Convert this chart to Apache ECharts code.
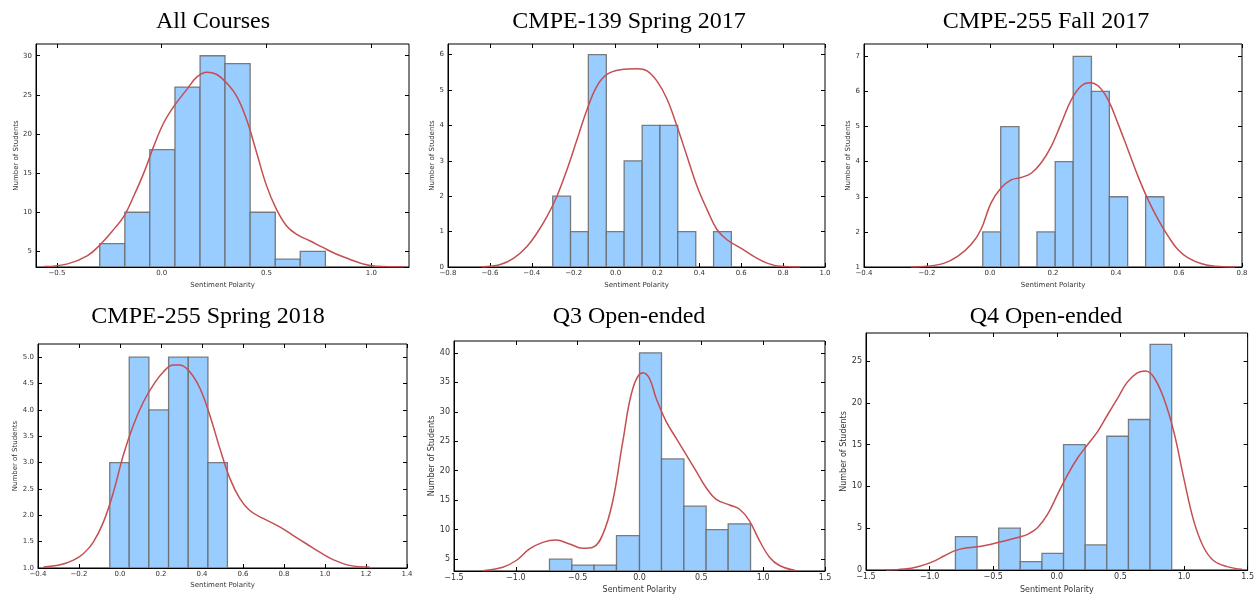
<!DOCTYPE html>
<html><head><meta charset="utf-8">
<script src="https://cdn.jsdelivr.net/npm/echarts@6/dist/echarts.min.js"></script>
<style>html,body{margin:0;padding:0;background:#fff}#c{width:1257px;height:595px}</style>
</head><body><div id="c"></div><script>
const titles = ['All Courses','CMPE-139 Spring 2017','CMPE-255 Fall 2017','CMPE-255 Spring 2018','Q3 Open-ended','Q4 Open-ended'];
const xName = 'Sentiment Polarity';
const yName = 'Number of Students';

// All Courses
const allEdges = [-0.296,-0.176,-0.057,0.063,0.183,0.302,0.422,0.542,0.661,0.781];
const allCounts = [6,10,18,26,30,29,10,4,5];
const allKde = [[-0.56,3.05],[-0.449,3.4],[-0.354,4.45],[-0.291,5.93],[-0.228,7.84],[-0.18,9.5],[-0.133,12.1],[-0.085,15.06],[-0.038,18.45],[0.009,21.4],[0.057,23.5],[0.12,25.7],[0.168,27.3],[0.215,27.9],[0.263,27.6],[0.31,26.5],[0.358,24.8],[0.405,21.85],[0.453,17.6],[0.5,13.4],[0.547,10.4],[0.595,8.27],[0.642,7.2],[0.706,6.36],[0.769,5.5],[0.832,4.66],[0.896,4.0],[0.959,3.4],[1.022,3.09],[1.157,3.02]];
const allXTicks = [-0.5,0.0,0.5,1.0];
const allYTicks = [5,10,15,20,25,30];

// CMPE-139 Spring 2017
const c139Edges = [-0.30,-0.215,-0.13,-0.044,0.041,0.127,0.212,0.297,0.383,0.468,0.553];
const c139Counts = [2,1,6,1,3,4,4,1,0,1];
const c139Kde = [[-0.638,0],[-0.55,0.07],[-0.486,0.25],[-0.423,0.58],[-0.375,0.96],[-0.327,1.43],[-0.28,2.0],[-0.232,2.75],[-0.184,3.6],[-0.136,4.45],[-0.089,5.11],[-0.041,5.44],[0.023,5.57],[0.102,5.6],[0.15,5.54],[0.198,5.25],[0.246,4.74],[0.293,3.98],[0.341,3.13],[0.389,2.28],[0.437,1.62],[0.484,1.06],[0.532,0.77],[0.596,0.54],[0.66,0.3],[0.723,0.11],[0.787,0.02],[0.882,0]];
const c139XTicks = [-0.8,-0.6,-0.4,-0.2,0.0,0.2,0.4,0.6,0.8,1.0];
const c139YTicks = [0,1,2,3,4,5,6];

// CMPE-255 Fall 2017
const f17Edges = [-0.023,0.034,0.092,0.149,0.207,0.264,0.322,0.379,0.437,0.494,0.552];
const f17Counts = [2,5,0,2,4,7,6,3,0,3];
const f17Kde = [[-0.251,1.0],[-0.198,1.02],[-0.145,1.11],[-0.103,1.3],[-0.06,1.64],[-0.029,2.06],[0.003,2.82],[0.035,3.25],[0.067,3.48],[0.099,3.55],[0.131,3.67],[0.162,3.96],[0.194,4.43],[0.226,5.09],[0.258,5.76],[0.29,6.16],[0.316,6.25],[0.343,6.16],[0.375,5.76],[0.406,5.09],[0.438,4.34],[0.47,3.58],[0.502,2.91],[0.534,2.35],[0.566,1.87],[0.597,1.49],[0.629,1.26],[0.672,1.09],[0.714,1.02],[0.778,1.0]];
const f17XTicks = [-0.4,-0.2,0.0,0.2,0.4,0.6,0.8];
const f17YTicks = [1,2,3,4,5,6,7];

// CMPE-255 Spring 2018
const s18Edges = [-0.050,0.045,0.141,0.237,0.333,0.429,0.524];
const s18Counts = [3,5,4,5,5,3];
const s18Kde = [[-0.373,1.02],[-0.292,1.06],[-0.227,1.15],[-0.179,1.27],[-0.13,1.49],[-0.081,1.87],[-0.032,2.44],[0.016,3.14],[0.065,3.71],[0.114,4.15],[0.162,4.47],[0.211,4.72],[0.26,4.85],[0.292,4.85],[0.341,4.72],[0.39,4.41],[0.438,3.9],[0.487,3.27],[0.536,2.70],[0.584,2.32],[0.633,2.09],[0.698,1.94],[0.779,1.78],[0.844,1.62],[0.909,1.46],[0.974,1.3],[1.039,1.16],[1.12,1.05],[1.218,1.02]];
const s18XTicks = [-0.4,-0.2,0.0,0.2,0.4,0.6,0.8,1.0,1.2,1.4];
const s18YTicks = [1.0,1.5,2.0,2.5,3.0,3.5,4.0,4.5,5.0];

// Q3 Open-ended
const q3Edges = [-0.728,-0.547,-0.367,-0.186,0.0,0.178,0.359,0.539,0.717,0.898];
const q3Counts = [5,4,4,9,40,22,14,10,11];
const q3Kde = [[-1.267,3.05],[-1.105,3.65],[-0.997,4.78],[-0.889,6.74],[-0.782,7.86],[-0.674,8.25],[-0.566,7.58],[-0.458,6.85],[-0.377,7.02],[-0.296,9.26],[-0.216,14.87],[-0.135,24.97],[-0.054,33.94],[0.027,36.63],[0.081,35.62],[0.135,32.26],[0.216,28.33],[0.296,25.53],[0.377,22.72],[0.458,19.92],[0.539,17.11],[0.62,15.15],[0.728,14.2],[0.809,13.47],[0.889,11.51],[0.97,8.14],[1.051,5.34],[1.132,3.93],[1.267,3.05]];
const q3XTicks = [-1.5,-1.0,-0.5,0.0,0.5,1.0,1.5];
const q3YTicks = [5,10,15,20,25,30,35,40];

// Q4 Open-ended
const q4Edges = [-0.797,-0.627,-0.457,-0.287,-0.117,0.053,0.223,0.393,0.563,0.733,0.903];
const q4Counts = [4,0,5,1,2,15,3,16,18,27];
const q4Kde = [[-1.341,0],[-1.197,0.12],[-1.093,0.4],[-0.988,0.91],[-0.883,1.7],[-0.805,2.29],[-0.727,2.61],[-0.622,2.77],[-0.517,3.09],[-0.413,3.48],[-0.308,3.88],[-0.23,4.27],[-0.152,5.06],[-0.073,6.65],[0.005,9.02],[0.084,11.39],[0.162,13.37],[0.24,14.95],[0.319,16.53],[0.397,18.51],[0.476,20.49],[0.554,22.47],[0.633,23.58],[0.698,23.81],[0.763,23.06],[0.842,20.49],[0.92,16.53],[0.998,11.0],[1.077,5.85],[1.155,2.69],[1.234,1.11],[1.338,0.4],[1.456,0.08]];
const q4XTicks = [-1.5,-1.0,-0.5,0.0,0.5,1.0,1.5];
const q4YTicks = [0,5,10,15,20,25];

const panelData = [
  {edges: allEdges, counts: allCounts, kde: allKde, xt: allXTicks, yt: allYTicks},
  {edges: c139Edges, counts: c139Counts, kde: c139Kde, xt: c139XTicks, yt: c139YTicks},
  {edges: f17Edges, counts: f17Counts, kde: f17Kde, xt: f17XTicks, yt: f17YTicks},
  {edges: s18Edges, counts: s18Counts, kde: s18Kde, xt: s18XTicks, yt: s18YTicks},
  {edges: q3Edges, counts: q3Counts, kde: q3Kde, xt: q3XTicks, yt: q3YTicks},
  {edges: q4Edges, counts: q4Counts, kde: q4Kde, xt: q4XTicks, yt: q4YTicks}
];

// layout / style per panel
const layout = [
  {left:36, top:44, width:373, height:223, xMin:-0.6, xMax:1.18, yMin:3, yMax:31.5, tx:213, ty:10, fs:7, xGap:15, yGap:14, yDec:0},
  {left:448, top:44, width:377, height:223, xMin:-0.8, xMax:1.0, yMin:0, yMax:6.3, tx:629, ty:10, fs:7, xGap:15, yGap:9, yDec:0},
  {left:864, top:44, width:378, height:223, xMin:-0.4, xMax:0.8, yMin:1, yMax:7.35, tx:1046, ty:10, fs:7, xGap:15, yGap:9, yDec:0},
  {left:38, top:344, width:369, height:224, xMin:-0.4, xMax:1.4, yMin:1.0, yMax:5.25, tx:208, ty:305, fs:7, xGap:14, yGap:16, yDec:1},
  {left:454, top:341, width:371, height:231, xMin:-1.5, xMax:1.5, yMin:3, yMax:42, tx:629, ty:305, fs:8, xGap:15, yGap:16, yDec:0},
  {left:866, top:333, width:382, height:238, xMin:-1.5, xMax:1.5, yMin:0, yMax:28.35, tx:1046, ty:305, fs:8, xGap:16, yGap:16, yDec:0}
];

const fmt = (v, d) => {
  const s = Math.abs(v) < 1e-9 ? (0).toFixed(d) : Number(v).toFixed(d);
  return s.replace('-', '\u2212');
};

const option = {
  animation: false,
  backgroundColor: '#fff',
  title: [], grid: [], xAxis: [], yAxis: [], series: []
};

layout.forEach((L, i) => {
  const D = panelData[i];
  option.title.push({
    text: titles[i], left: L.tx, top: L.ty, textAlign: 'center', padding: 0,
    textStyle: {fontFamily: 'Liberation Serif', fontSize: 24, fontWeight: 'normal', color: '#000'}
  });
  option.grid.push({left: L.left, top: L.top, width: L.width, height: L.height,
    show: true, borderColor: '#000', borderWidth: 1, backgroundColor: 'transparent'});
  const lab = {fontFamily: 'DejaVu Sans', fontSize: L.fs, color: '#333'};
  option.xAxis.push({
    type: 'value', gridIndex: i, min: L.xMin, max: L.xMax, position: 'bottom',
    name: xName, nameLocation: 'middle', nameGap: L.xGap,
    nameTextStyle: {fontFamily: 'DejaVu Sans', fontSize: L.fs, color: '#333'},
    axisLine: {show: true, onZero: false, lineStyle: {color: '#000', width: 1}},
    axisTick: {show: true, inside: true, length: 4, customValues: D.xt, lineStyle: {color: '#000'}},
    axisLabel: Object.assign({show: true, margin: 3, customValues: D.xt, showMinLabel: true, showMaxLabel: true,
      formatter: v => fmt(v, 1)}, lab),
    splitLine: {show: false}
  });
  option.xAxis.push({
    type: 'value', gridIndex: i, min: L.xMin, max: L.xMax, position: 'top',
    axisLine: {show: false, onZero: false},
    axisTick: {show: true, inside: true, length: 4, customValues: D.xt, lineStyle: {color: '#000'}},
    axisLabel: {show: false}, splitLine: {show: false}
  });
  option.yAxis.push({
    type: 'value', gridIndex: i, min: L.yMin, max: L.yMax, position: 'left',
    name: yName, nameLocation: 'middle', nameGap: L.yGap, nameRotate: 90,
    nameTextStyle: {fontFamily: 'DejaVu Sans', fontSize: L.fs, color: '#333'},
    axisLine: {show: true, onZero: false, lineStyle: {color: '#000', width: 1}},
    axisTick: {show: true, inside: true, length: 4, customValues: D.yt, lineStyle: {color: '#000'}},
    axisLabel: Object.assign({show: true, margin: 4, customValues: D.yt, showMinLabel: true, showMaxLabel: true,
      formatter: v => fmt(v, L.yDec)}, lab),
    splitLine: {show: false}
  });
  option.yAxis.push({
    type: 'value', gridIndex: i, min: L.yMin, max: L.yMax, position: 'right',
    axisLine: {show: false, onZero: false},
    axisTick: {show: true, inside: true, length: 4, customValues: D.yt, lineStyle: {color: '#000'}},
    axisLabel: {show: false}, splitLine: {show: false}
  });
  const bins = D.counts.map((c, k) => [D.edges[k], D.edges[k + 1], c]);
  option.series.push({
    type: 'custom', xAxisIndex: 2 * i, yAxisIndex: 2 * i, clip: true, data: bins,
    renderItem: (params, api) => {
      const c = api.value(2);
      if (c <= L.yMin) return null;
      const p0 = api.coord([api.value(0), c]);
      const p1 = api.coord([api.value(1), c]);
      const bottom = params.coordSys.y + params.coordSys.height;
      return {type: 'rect',
        shape: {x: p0[0], y: p0[1], width: p1[0] - p0[0], height: bottom - p0[1]},
        style: {fill: '#99ccff', stroke: 'rgba(105,105,105,0.85)', lineWidth: 1.3}};
    }
  });
  option.series.push({
    type: 'line', xAxisIndex: 2 * i, yAxisIndex: 2 * i, data: D.kde, smooth: 0.4,
    symbol: 'none', clip: true, lineStyle: {color: '#c44e52', width: 1.5}, z: 5
  });
});

const chart = echarts.init(document.getElementById('c'));
chart.setOption(option);
</script></body></html>
